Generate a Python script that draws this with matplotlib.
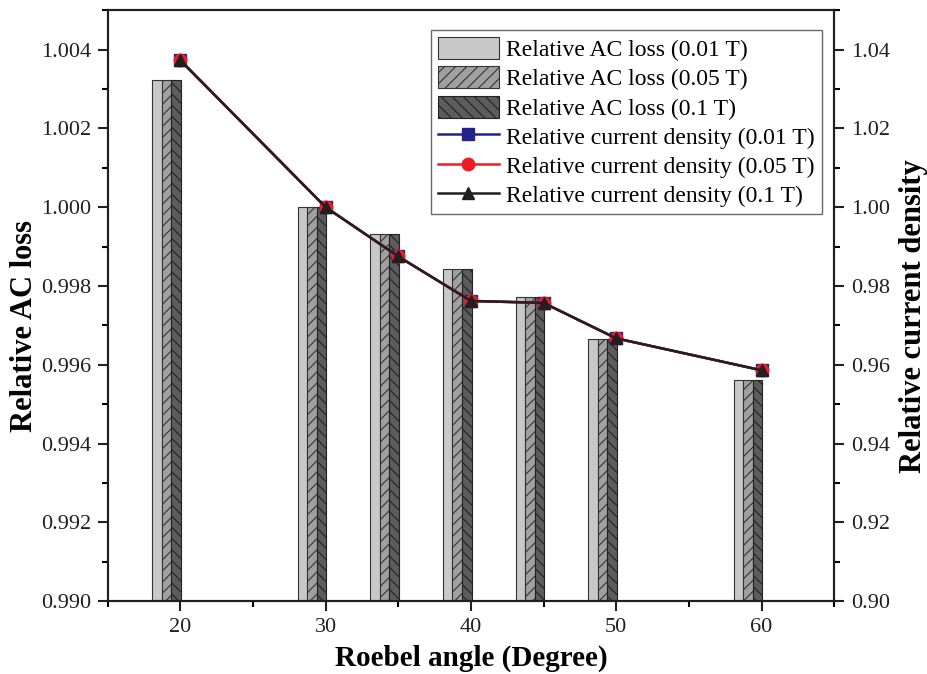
import numpy as np
import matplotlib.pyplot as plt
from matplotlib.ticker import MultipleLocator

plt.rcParams['font.family'] = ['Liberation Serif', 'DejaVu Serif']
plt.rcParams['hatch.linewidth'] = 0.8

# Roebel angle (degree)
angles = [20, 30, 35, 40, 45, 50, 60]

# relative AC loss (same for all three fields)
ac_001 = [1.00322, 1.00000, 0.99932, 0.99844, 0.99772, 0.99666, 0.99562]
ac_005 = [1.00322, 1.00000, 0.99932, 0.99844, 0.99772, 0.99666, 0.99562]
ac_01 = [1.00322, 1.00000, 0.99932, 0.99844, 0.99772, 0.99666, 0.99562]

# relative current density
jc_001 = [1.0373, 1.0000, 0.9875, 0.9762, 0.9757, 0.9667, 0.9586]
jc_005 = [1.0373, 1.0000, 0.9875, 0.9762, 0.9757, 0.9667, 0.9586]
jc_01 = [1.0373, 1.0000, 0.9875, 0.9762, 0.9757, 0.9667, 0.9586]

fig = plt.figure(figsize=(9.27, 6.74), dpi=100)
ax = fig.add_axes([0.116, 0.108, 0.784, 0.877])
ax2 = ax.twinx()

x = np.array(angles, dtype=float)
w = 0.66
bottom = 0.990
ax.bar(x - 1.6, np.array(ac_001) - bottom, w, bottom=bottom, color='#c8c8c8',
       edgecolor='#333333', linewidth=0.8, label='Relative AC loss (0.01 T)')
ax.bar(x - 0.94, np.array(ac_005) - bottom, w, bottom=bottom, color='#a0a0a0',
       edgecolor='#333333', linewidth=0.8, hatch='///', label='Relative AC loss (0.05 T)')
ax.bar(x - 0.28, np.array(ac_01) - bottom, w, bottom=bottom, color='#5c5c5c',
       edgecolor='#222222', linewidth=0.8, hatch='\\\\\\', label='Relative AC loss (0.1 T)')

ax2.plot(angles, jc_001, '-s', color='#22228f', lw=1.8, ms=9,
         label='Relative current density (0.01 T)')
ax2.plot(angles, jc_005, '-o', color='#ee1c24', lw=1.8, ms=9,
         label='Relative current density (0.05 T)')
ax2.plot(angles, jc_01, '-^', color='#231f20', lw=1.8, ms=9,
         label='Relative current density (0.1 T)')

ax.set_xlim(15, 65)
ax.set_ylim(0.990, 1.005)
ax2.set_ylim(0.90, 1.05)
ax.set_xticks([20, 30, 40, 50, 60])
ax.xaxis.set_minor_locator(MultipleLocator(5))
ax.yaxis.set_major_locator(MultipleLocator(0.002))
ax.yaxis.set_minor_locator(MultipleLocator(0.001))
ax.yaxis.set_major_formatter(plt.FormatStrFormatter('%.3f'))
ax2.yaxis.set_major_locator(MultipleLocator(0.02))
ax2.yaxis.set_minor_locator(MultipleLocator(0.01))
ax2.yaxis.set_major_formatter(plt.FormatStrFormatter('%.2f'))

for a in (ax, ax2):
    a.tick_params(which='major', direction='out', length=7, width=1.5, labelsize=16,
                  colors='#231f20', pad=5)
    a.tick_params(which='minor', direction='out', length=4, width=1.5)
    for s in a.spines.values():
        s.set_linewidth(1.5)
        s.set_color('#231f20')

ax.set_xlabel('Roebel angle (Degree)', fontsize=21, fontweight='bold')
ax.set_ylabel('Relative AC loss', fontsize=22, fontweight='bold')
ax2.set_ylabel('Relative current density', fontsize=22, fontweight='bold')
ax.xaxis.set_label_coords(0.5, -0.073)
ax.yaxis.set_label_coords(-0.094, 0.465)
ax2.yaxis.set_label_coords(1.089, 0.482)

h1, l1 = ax.get_legend_handles_labels()
h2, l2 = ax2.get_legend_handles_labels()
leg = ax2.legend(h1 + h2, l1 + l2, loc='upper right', fontsize=17, frameon=True,
                 fancybox=False, edgecolor='#444444', handlelength=2.6, handleheight=1.05,
                 labelspacing=0.22, borderpad=0.3, handletextpad=0.3, borderaxespad=0,
                 bbox_to_anchor=(0.983, 0.966))
leg.get_frame().set_linewidth(1.0)

fig.savefig('out.png', dpi=100)
